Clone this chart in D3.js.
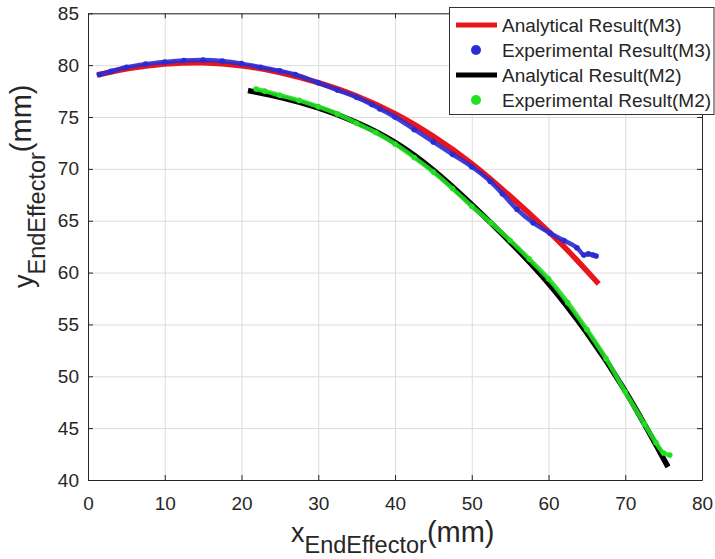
<!DOCTYPE html>
<html>
<head>
<meta charset="utf-8">
<script src="https://cdn.jsdelivr.net/npm/d3@7"></script>
<style>
  body { margin: 0; background: #fff; }
  svg { font-family: "Liberation Sans", Arial, sans-serif; }
  .axis path, .axis line { stroke: #262626; }
  .axis text { fill: #262626; font-size: 19px; }
  .grid line { stroke: #dcdcdc; }
  .grid path { display: none; }
</style>
</head>
<body>
<div id="chart"></div>
<script>
// tick values
var xTicks = [0, 10, 20, 30, 40, 50, 60, 70, 80];
var yTicks = [40, 45, 50, 55, 60, 65, 70, 75, 80, 85];

// series names, in legend order
var seriesNames = ["Analytical Result(M3)", "Experimental Result(M3)", "Analytical Result(M2)", "Experimental Result(M2)"];

// Analytical Result(M3)
var m3AnaX = [1.5, 5, 10, 15, 20, 25, 30, 35, 40, 45, 50, 55, 60, 63, 66.3];
var m3AnaY = [79.1, 79.7, 80.15, 80.3, 80.0, 79.35, 78.35, 77.1, 75.4, 73.2, 70.6, 67.4, 64.0, 61.8, 59.1];

// Experimental Result(M3)
var m3ExpX = [1.5, 3, 5, 7.5, 10, 12.5, 15, 17.5, 20, 22.5, 25, 27, 30, 32.5, 35, 37, 38, 40, 42.5, 45, 47.5, 50, 52.4, 54, 55.9, 58, 60.2, 62, 63.7, 64.6, 65.2, 65.8, 66.2];
var m3ExpY = [79.1, 79.4, 79.8, 80.1, 80.3, 80.45, 80.5, 80.4, 80.15, 79.8, 79.45, 79.1, 78.3, 77.6, 76.9, 76.2, 75.8, 75.0, 73.8, 72.6, 71.4, 70.2, 68.8, 67.6, 66.1, 64.8, 63.8, 63.1, 62.4, 61.7, 61.8, 61.7, 61.6];

// Analytical Result(M2)
var m2AnaX = [21.2, 25, 30, 35, 40, 45, 50, 55, 60, 65, 70, 75.4];
var m2AnaY = [77.5, 76.95, 75.95, 74.55, 72.7, 70.0, 66.6, 63.0, 59.1, 54.3, 48.8, 41.5];

// Experimental Result(M2)
var m2ExpX = [21.9, 23, 25, 27.5, 30, 32.5, 35, 37.5, 40, 42.5, 45, 47.5, 50, 52.5, 55, 57.5, 60, 62.5, 65, 67.5, 70, 72.5, 74, 75, 75.8];
var m2ExpY = [77.7, 77.5, 77.1, 76.6, 76.0, 75.3, 74.4, 73.5, 72.4, 71.1, 69.7, 68.1, 66.4, 64.8, 63.1, 61.3, 59.4, 57.1, 54.5, 51.7, 48.5, 45.4, 43.6, 42.6, 42.4];

var colors = ["#e8161c", "#2b2bd4", "#000000", "#22e022"];

var W = 715, H = 559;
var margin = {top: 13.3, right: 13, bottom: 79, left: 88};
var width = W - margin.left - margin.right;
var height = H - margin.top - margin.bottom;

var svg = d3.select("#chart").append("svg")
  .attr("width", W)
  .attr("height", H)
  .append("g")
  .attr("transform", "translate(" + margin.left + "," + margin.top + ")");

var x = d3.scaleLinear().domain([0, 80]).range([0, width]);
var y = d3.scaleLinear().domain([40, 85]).range([height, 0]);

// grid
svg.append("g")
  .attr("class", "grid")
  .attr("transform", "translate(0," + height + ")")
  .call(d3.axisBottom(x).tickValues(xTicks).tickSize(-height).tickFormat(""));
svg.append("g")
  .attr("class", "grid")
  .call(d3.axisLeft(y).tickValues(yTicks).tickSize(-width).tickFormat(""));

function zip(xs, ys) {
  return xs.map(function(v, i) { return [v, ys[i]]; });
}

// analytical curves are smooth, experimental ones follow the samples
var smoothLine = d3.line()
  .x(function(d) { return x(d[0]); })
  .y(function(d) { return y(d[1]); })
  .curve(d3.curveBasis);

var line = d3.line()
  .x(function(d) { return x(d[0]); })
  .y(function(d) { return y(d[1]); })
  .curve(d3.curveCatmullRom);

var series = [zip(m3AnaX, m3AnaY), zip(m3ExpX, m3ExpY), zip(m2AnaX, m2AnaY), zip(m2ExpX, m2ExpY)];

series.forEach(function(data, i) {
  var g = svg.append("g");
  if (i % 2 === 0) {
    g.append("path")
      .datum(data)
      .attr("d", smoothLine)
      .attr("fill", "none")
      .attr("stroke", colors[i])
      .attr("stroke-width", 5.5)
      .attr("stroke-linecap", "square");
  } else {
    g.append("path")
      .datum(data)
      .attr("d", line)
      .attr("fill", "none")
      .attr("stroke", colors[i])
      .attr("stroke-width", 4.5)
      .attr("stroke-opacity", 0.9);
    g.selectAll("circle")
      .data(data)
      .enter().append("circle")
      .attr("cx", function(d) { return x(d[0]); })
      .attr("cy", function(d) { return y(d[1]); })
      .attr("r", 2.8)
      .attr("fill", colors[i]);
  }
});

// axes
svg.append("g")
  .attr("class", "axis")
  .attr("transform", "translate(0," + height + ")")
  .call(d3.axisBottom(x).tickValues(xTicks).tickSizeInner(-5).tickSizeOuter(0).tickPadding(17));
svg.append("g")
  .attr("class", "axis")
  .call(d3.axisLeft(y).tickValues(yTicks).tickSizeInner(-5).tickSizeOuter(0).tickPadding(9));
svg.append("g")
  .attr("class", "axis")
  .call(d3.axisTop(x).tickValues(xTicks).tickSizeInner(-5).tickSizeOuter(0).tickFormat(""));
svg.append("g")
  .attr("class", "axis")
  .attr("transform", "translate(" + width + ",0)")
  .call(d3.axisRight(y).tickValues(yTicks).tickSizeInner(-5).tickSizeOuter(0).tickFormat(""));

// axis labels
var root = d3.select("svg");
var xl = root.append("text")
  .attr("x", 291)
  .attr("y", 542)
  .attr("fill", "#262626");
xl.append("tspan").attr("font-size", 27).text("x");
xl.append("tspan").attr("font-size", 23.5).attr("dy", 11).text("EndEffector");
xl.append("tspan").attr("font-size", 29).attr("dy", -11).text("(mm)");

var yl = root.append("text")
  .attr("transform", "translate(33,288) rotate(-90)")
  .attr("fill", "#262626");
yl.append("tspan").attr("font-size", 27).text("y");
yl.append("tspan").attr("font-size", 23.5).attr("dy", 12).text("EndEffector");
yl.append("tspan").attr("font-size", 29).attr("dy", -14).text("(mm)");

// legend
var legend = root.append("g");
legend.append("rect")
  .attr("x", 449.5)
  .attr("y", 7.5)
  .attr("width", 264.5)
  .attr("height", 107)
  .attr("fill", "#fff")
  .attr("stroke", "#333");

var items = legend.selectAll(".item")
  .data(seriesNames)
  .enter().append("g")
  .attr("class", "item")
  .attr("transform", function(d, i) { return "translate(0," + (25 + i * 25) + ")"; });

items.each(function(d, i) {
  var it = d3.select(this);
  if (i % 2 === 0) {
    it.append("line")
      .attr("x1", 456).attr("x2", 497)
      .attr("stroke", colors[i])
      .attr("stroke-width", 5);
  } else {
    it.append("circle")
      .attr("cx", 476)
      .attr("r", 5)
      .attr("fill", colors[i]);
  }
});

items.append("text")
  .attr("x", 502)
  .attr("dy", "0.35em")
  .attr("font-size", 19)
  .attr("fill", "#262626")
  .text(function(d) { return d; });
</script>
</body>
</html>
